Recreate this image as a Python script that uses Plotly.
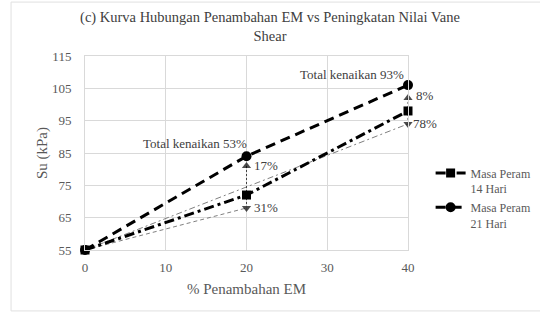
import plotly.graph_objects as go

# Data
x_em = [0, 20, 40]
su_14 = [55, 72, 98]
su_21 = [55, 84, 106]
arrow_tip = [81, 102]          # head of vertical arrows
guide_end_x = [20, 40]
guide_end_y = [68, 94]          # thin guide arrows heads
inc_total = ["Total kenaikan 53%", "Total kenaikan 93%"]
inc_between = ["17%", "8%"]
inc_14 = ["31%", "78%"]
x_ticks = [0, 10, 20, 30, 40]
y_ticks = [55, 65, 75, 85, 95, 105, 115]

FONT = "Liberation Serif, Times New Roman, serif"
GRAY = "#595959"

fig = go.Figure()

# thin guide lines
fig.add_trace(go.Scatter(x=[x_em[0], guide_end_x[0]], y=[su_14[0], guide_end_y[0]],
                         mode="lines+markers", showlegend=False, cliponaxis=False,
                         line=dict(color="#7f7f7f", width=1, dash="4px,3px"),
                         marker=dict(symbol=["circle", "triangle-down"], size=[0, 8], color="black",
                                     line=dict(width=0))))
fig.add_trace(go.Scatter(x=[x_em[0], guide_end_x[1]], y=[su_14[0], guide_end_y[1]],
                         mode="lines+markers", showlegend=False, cliponaxis=False,
                         line=dict(color="#7f7f7f", width=1, dash="6px,3px,2px,3px"),
                         marker=dict(symbol=["circle", "triangle-down"], size=[0, 8], color="black",
                                     line=dict(width=0))))

# vertical arrows
for i in range(2):
    xi = x_em[i + 1]
    fig.add_trace(go.Scatter(x=[xi, xi], y=[guide_end_y[i], arrow_tip[i]],
                             mode="lines+markers", showlegend=False, cliponaxis=False,
                             line=dict(color="#404040", width=1, dash="2px,2px"),
                             marker=dict(symbol=["circle", "triangle-up"], size=[0, 8], color="black",
                                         line=dict(width=0))))

fig.add_trace(go.Scatter(x=x_em, y=su_14, name="Masa Peram<br>14 Hari",
                         mode="lines+markers", cliponaxis=False,
                         line=dict(color="black", width=3, dash="10px,4px,3px,4px"),
                         marker=dict(symbol="square", size=9, color="black")))
fig.add_trace(go.Scatter(x=x_em, y=su_21, name="Masa Peram<br>21 Hari",
                         mode="lines+markers", cliponaxis=False,
                         line=dict(color="black", width=3, dash="10px,6px"),
                         marker=dict(symbol="circle", size=10, color="black")))

# labels (x offsets in pixels so that labels beyond the last x stay visible)
ann = []
ann.append(dict(x=x_em[1], y=su_21[1] + 4, text=inc_total[0], xanchor="right", xshift=2))
ann.append(dict(x=x_em[2], y=su_21[2] + 3.3, text=inc_total[1], xanchor="right", xshift=-2))
ann.append(dict(x=x_em[1], y=arrow_tip[0], text=inc_between[0], xanchor="left", xshift=5))
ann.append(dict(x=x_em[2], y=arrow_tip[1] + 0.7, text=inc_between[1], xanchor="left", xshift=6))
ann.append(dict(x=x_em[1], y=guide_end_y[0] + 0.3, text=inc_14[0], xanchor="left", xshift=5))
ann.append(dict(x=x_em[2], y=guide_end_y[1], text=inc_14[1], xanchor="left", xshift=3))
for a in ann:
    a.update(xref="x", yref="y", showarrow=False, yanchor="middle",
             font=dict(family=FONT, size=13, color="#404040"))
    fig.add_annotation(**a)

fig.update_layout(
    width=540, height=313,
    margin=dict(l=85, r=132, t=56, b=63, autoexpand=False),
    paper_bgcolor="white", plot_bgcolor="white",
    title=dict(text="(c) Kurva Hubungan Penambahan EM vs Peningkatan Nilai Vane<br>Shear",
               x=0.5, xref="container", xanchor="center", y=0.93, yanchor="top",
               font=dict(family=FONT, size=14.5, color="#404040")),
    font=dict(family=FONT, color=GRAY),
    legend=dict(x=1.07, y=0.47, xanchor="left", yanchor="top", valign="top",
                font=dict(family=FONT, size=12, color=GRAY),
                bgcolor="rgba(0,0,0,0)"),
    xaxis=dict(range=[0, 40], tickvals=x_ticks, showgrid=True, gridcolor="#d9d9d9",
               showline=True, mirror=True, linecolor="#d9d9d9", zeroline=False, automargin=False,
               tickfont=dict(family=FONT, size=13, color=GRAY), ticklabelstandoff=5,
               title=dict(text="% Penambahan EM", font=dict(family=FONT, size=15, color=GRAY), standoff=9)),
    yaxis=dict(range=[55, 115], tickvals=y_ticks, showgrid=True, gridcolor="#d9d9d9",
               showline=True, mirror=True, linecolor="#d9d9d9", zeroline=False, automargin=False,
               tickfont=dict(family=FONT, size=13, color=GRAY), ticklabelstandoff=10,
               title=dict(text="Su (kPa)", font=dict(family=FONT, size=15, color=GRAY), standoff=0)),
    shapes=[dict(type="rect", xref="paper", yref="paper", x0=-0.229, x1=1.424, y0=-0.314, y1=1.278,
                 line=dict(color="#e0e0e0", width=1), layer="below")],
)

fig.write_html("out.html", config={"displayModeBar": False},
               post_script="document.body.style.margin='0';")
